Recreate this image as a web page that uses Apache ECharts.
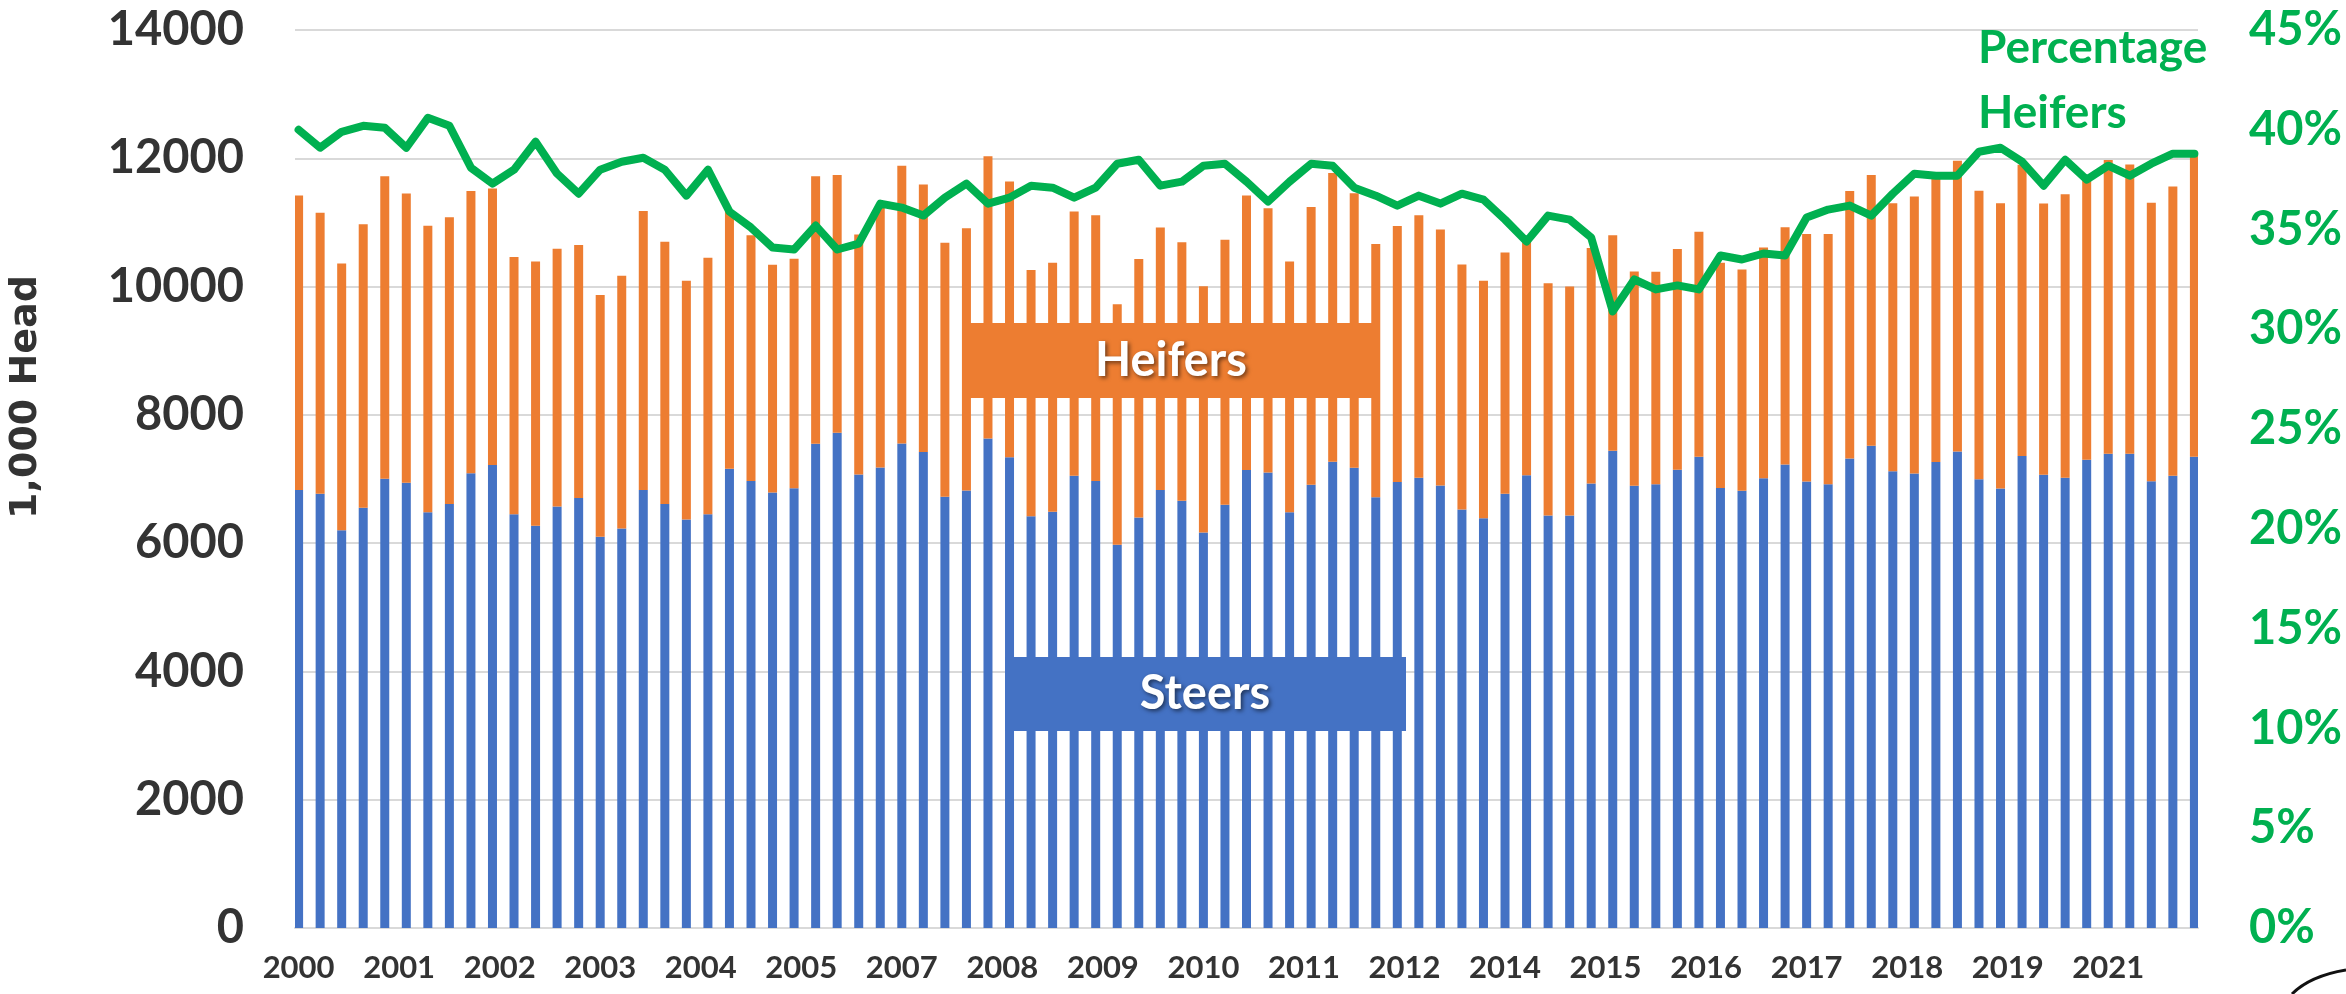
<!DOCTYPE html>
<html>
<head>
<meta charset="utf-8">
<style>
  html, body { margin: 0; padding: 0; background: #ffffff; }
  #chart { width: 2346px; height: 994px; }
</style>
<script src="https://cdn.jsdelivr.net/npm/echarts@6/dist/echarts.min.js"></script>
</head>
<body>
<div id="chart"></div>
<script>
// Quarterly observations, Jan 2000 .. Jan 2022 (89 points), values in 1,000 head
const startYear = 2000;
const quarterCount = 89;

const steers = [
  6830, 6770, 6200, 6550, 7005, 6940, 6480, 6610, 7090, 7220,
  6450, 6270, 6570, 6705, 6100, 6230, 6830, 6610, 6370, 6450,
  7160, 6970, 6790, 6855, 7550, 7720, 7070, 7180, 7555, 7420,
  6725, 6820, 7630, 7340, 6420, 6490, 7050, 6970, 5975, 6400,
  6830, 6660, 6165, 6600, 7140, 7100, 6480, 6910, 7270, 7175,
  6715, 6955, 7020, 6900, 6525, 6390, 6770, 7060, 6430, 6430,
  6930, 7440, 6895, 6920, 7145, 7345, 6860, 6815, 7010, 7225,
  6960, 6920, 7320, 7520, 7120, 7085, 7265, 7430, 6995, 6850,
  7360, 7065, 7020, 7300, 7395, 7395, 6965, 7050, 7345
];

const heifers = [
  4590, 4380, 4160, 4420, 4715, 4510, 4470, 4470, 4400, 4310,
  4010, 4120, 4020, 3945, 3770, 3940, 4350, 4090, 3720, 4000,
  4020, 3830, 3550, 3580, 4170, 4020, 3740, 4090, 4330, 4170,
  3960, 4090, 4400, 4300, 3840, 3880, 4120, 4140, 3750, 4030,
  4090, 4030, 3840, 4130, 4280, 4120, 3910, 4330, 4500, 4280,
  3950, 3990, 4090, 3990, 3820, 3700, 3760, 3660, 3620, 3570,
  3670, 3360, 3340, 3310, 3440, 3510, 3510, 3450, 3600, 3700,
  3860, 3900, 4170, 4220, 4180, 4320, 4420, 4530, 4500, 4450,
  4540, 4230, 4420, 4360, 4580, 4510, 4340, 4510, 4690
];

const pctHeifers = [
  40.0, 39.1, 39.9, 40.2, 40.1, 39.1, 40.6, 40.2, 38.1, 37.3,
  38.0, 39.4, 37.8, 36.8, 38.0, 38.4, 38.6, 38.0, 36.7, 38.0,
  35.9, 35.1, 34.1, 34.0, 35.2, 34.0, 34.3, 36.3, 36.1, 35.7,
  36.6, 37.3, 36.3, 36.6, 37.2, 37.1, 36.6, 37.1, 38.3, 38.5,
  37.2, 37.4, 38.2, 38.3, 37.4, 36.4, 37.4, 38.3, 38.2, 37.1,
  36.7, 36.2, 36.7, 36.3, 36.8, 36.5, 35.5, 34.4, 35.7, 35.5,
  34.6, 30.9, 32.5, 32.0, 32.2, 32.0, 33.7, 33.5, 33.8, 33.7,
  35.6, 36.0, 36.2, 35.7, 36.8, 37.8, 37.7, 37.7, 38.9, 39.1,
  38.4, 37.2, 38.5, 37.5, 38.2, 37.7, 38.3, 38.8, 38.8
];

const leftTicks = { min: 0, max: 14000, interval: 2000 };
const rightTicks = { min: 0, max: 45, interval: 5 };

// Monthly date-axis categories (bars fall on every third month)
const monthsPerQuarter = 3;
const months = [];
for (let i = 0; i < (quarterCount - 1) * monthsPerQuarter + 1; i++) {
  const y = startYear + Math.floor(i / 12);
  const m = (i % 12) + 1;
  months.push(y + '-' + (m < 10 ? '0' + m : m));
}
function spread(arr) {
  return months.map((_, i) => (i % monthsPerQuarter === 0 ? arr[i / monthsPerQuarter] : null));
}

const TXT = '#333333';
const GREEN = '#00B050';
const BLUE = '#4472C4';
const ORANGE = '#ED7D31';
const FONT = 'Lato';

const chart = echarts.init(document.getElementById('chart'), null, { renderer: 'canvas' });
chart.setOption({
  animation: false,
  backgroundColor: '#ffffff',
  grid: { left: 295, right: 148, top: 30, bottom: 66, containLabel: false },
  xAxis: {
    type: 'category',
    data: months,
    boundaryGap: true,
    axisTick: { show: false },
    axisLine: { show: true, lineStyle: { color: '#d9d9d9', width: 2 } },
    axisLabel: {
      interval: 13,
      margin: 24,
      fontFamily: FONT,
      fontWeight: 'bold',
      fontSize: 31,
      color: TXT,
      formatter: v => v.slice(0, 4)
    },
    splitLine: { show: false }
  },
  yAxis: [
    {
      type: 'value',
      min: leftTicks.min, max: leftTicks.max, interval: leftTicks.interval,
      axisLine: { show: false },
      axisTick: { show: false },
      axisLabel: {
        margin: 51, fontFamily: FONT, fontWeight: 'bold', fontSize: 47, color: TXT,
        formatter: v => String(v)
      },
      splitLine: { show: true, lineStyle: { color: '#d9d9d9', width: 2 } }
    },
    {
      type: 'value',
      min: rightTicks.min, max: rightTicks.max, interval: rightTicks.interval,
      position: 'right',
      axisLine: { show: false },
      axisTick: { show: false },
      axisLabel: { margin: 51, fontFamily: FONT, fontWeight: 'bold', fontSize: 47, color: GREEN, formatter: '{value}%' },
      splitLine: { show: false }
    }
  ],
  series: [
    {
      name: 'Steers', type: 'bar', stack: 'total', yAxisIndex: 0,
      data: spread(steers), barWidth: 9,
      itemStyle: { color: BLUE }
    },
    {
      name: 'Heifers', type: 'bar', stack: 'total', yAxisIndex: 0,
      data: spread(heifers), barWidth: 9,
      itemStyle: { color: ORANGE }
    },
    {
      name: 'Percentage Heifers', type: 'line', yAxisIndex: 1,
      data: spread(pctHeifers), connectNulls: true, symbol: 'none',
      lineStyle: { color: GREEN, width: 8, cap: 'round', join: 'round' },
      z: 5
    }
  ],
  graphic: [
    {
      type: 'rect', z: 10,
      shape: { x: 963, y: 323, width: 417, height: 75 },
      style: { fill: ORANGE }
    },
    {
      type: 'text', z: 11, x: 1171, y: 361,
      style: {
        text: 'Heifers', fill: '#ffffff', font: 'bold 47px Lato',
        align: 'center', verticalAlign: 'middle',
        textShadowColor: 'rgba(0,0,0,0.55)', textShadowBlur: 4, textShadowOffsetX: 2, textShadowOffsetY: 2
      }
    },
    {
      type: 'rect', z: 10,
      shape: { x: 1005, y: 657, width: 401, height: 74 },
      style: { fill: BLUE }
    },
    {
      type: 'text', z: 11, x: 1205, y: 694,
      style: {
        text: 'Steers', fill: '#ffffff', font: 'bold 47px Lato',
        align: 'center', verticalAlign: 'middle',
        textShadowColor: 'rgba(0,0,0,0.55)', textShadowBlur: 4, textShadowOffsetX: 2, textShadowOffsetY: 2
      }
    },
    {
      type: 'text', z: 11, x: 1978, y: 16,
      style: {
        text: 'Percentage\nHeifers', fill: GREEN, font: 'bold 46px Lato',
        lineHeight: 65, align: 'left', verticalAlign: 'top'
      }
    },
    {
      type: 'text', z: 11, x: 26, y: 397, rotation: Math.PI / 2,
      style: {
        text: '1,000 Head', fill: TXT, font: 'bold 38px "DejaVu Sans"',
        align: 'center', verticalAlign: 'middle'
      }
    },
    {
      type: 'bezierCurve', z: 11,
      shape: { x1: 2292, y1: 994, cpx1: 2310, cpy1: 976, x2: 2346, y2: 970 },
      style: { stroke: '#111111', lineWidth: 3, fill: null }
    }
  ]
});
</script>
</body>
</html>
